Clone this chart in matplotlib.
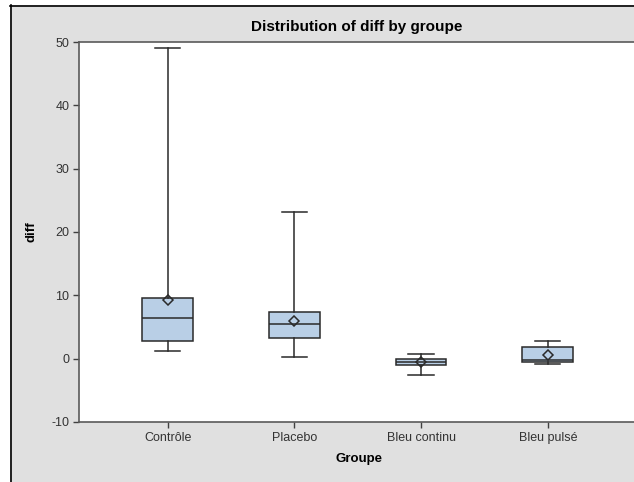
import matplotlib
matplotlib.use("Agg")
import matplotlib.pyplot as plt
from matplotlib.patches import Rectangle
from matplotlib.lines import Line2D

groups = ["Contrôle", "Placebo", "Bleu continu", "Bleu pulsé"]
whislo = [1.25, 0.3, -2.55, -0.85]
q1 = [2.85, 3.3, -1.0, -0.55]
med = [6.5, 5.4, -0.45, -0.15]
q3 = [9.55, 7.3, -0.05, 1.9]
whishi = [49.0, 23.2, 0.7, 2.8]
means = [9.2, 5.9, -0.45, 0.55]

plt.rcParams['font.family'] = ['Liberation Sans', 'DejaVu Sans']
plt.rcParams['axes.unicode_minus'] = False

fig = plt.figure(figsize=(6.34, 4.82), dpi=100)
W, H = 634, 482
fig.patch.set_facecolor("white")
bg = Rectangle((10 / W, 0), 1, 1 - 5 / H, transform=fig.transFigure,
               facecolor="#e0e0e0", edgecolor="none", zorder=0)
fig.add_artist(bg)
fig.add_artist(Line2D([10.5 / W, 10.5 / W], [0, 1 - 5 / H], transform=fig.transFigure,
                      color="black", lw=1.2))
fig.add_artist(Line2D([10 / W, 1], [1 - 5.5 / H, 1 - 5.5 / H], transform=fig.transFigure,
                      color="black", lw=1.2))

ax = fig.add_axes([79 / W, 1 - 422 / H, 560 / W, 380 / H])
ax.set_facecolor("white")

stats = []
for i, g in enumerate(groups):
    stats.append(dict(label=g, whislo=whislo[i], q1=q1[i], med=med[i],
                      q3=q3[i], whishi=whishi[i], mean=means[i], fliers=[]))

ax.bxp(stats, positions=range(len(groups)), widths=0.40, showmeans=True,
       patch_artist=True, capwidths=0.2,
       boxprops=dict(facecolor="#b9cfe6", edgecolor="#2a2a2a", lw=1.1),
       medianprops=dict(color="#2a2a2a", lw=1.1),
       whiskerprops=dict(color="#2a2a2a", lw=1.1),
       capprops=dict(color="#2a2a2a", lw=1.1),
       meanprops=dict(marker="D", markerfacecolor="none", markeredgecolor="#2a2a2a",
                      markersize=5.5, markeredgewidth=1.1))

ax.set_xlim(-0.7, 3.72)
ax.set_ylim(-10, 50)
ax.set_yticks([-10, 0, 10, 20, 30, 40, 50])
ax.set_xticks(range(len(groups)))
ax.set_xticklabels(groups)
ax.spines["right"].set_visible(False)
for s in ["left", "bottom", "top"]:
    ax.spines[s].set_color("#5a5a5a")
    ax.spines[s].set_linewidth(1.2)
ax.tick_params(direction="out", length=4, width=1, color="#404040",
               labelsize=9, labelcolor="#333333", pad=3)

ax.set_xlabel("Groupe", fontsize=9.5, fontweight="bold", labelpad=7)
ax.set_ylabel("diff", fontsize=9.5, fontweight="bold", labelpad=10)
fig.text(357 / W, 1 - 27 / H, "Distribution of diff by groupe", ha="center", va="center",
         fontsize=11, fontweight="bold")

fig.savefig("out.png", dpi=100, facecolor=fig.get_facecolor())
